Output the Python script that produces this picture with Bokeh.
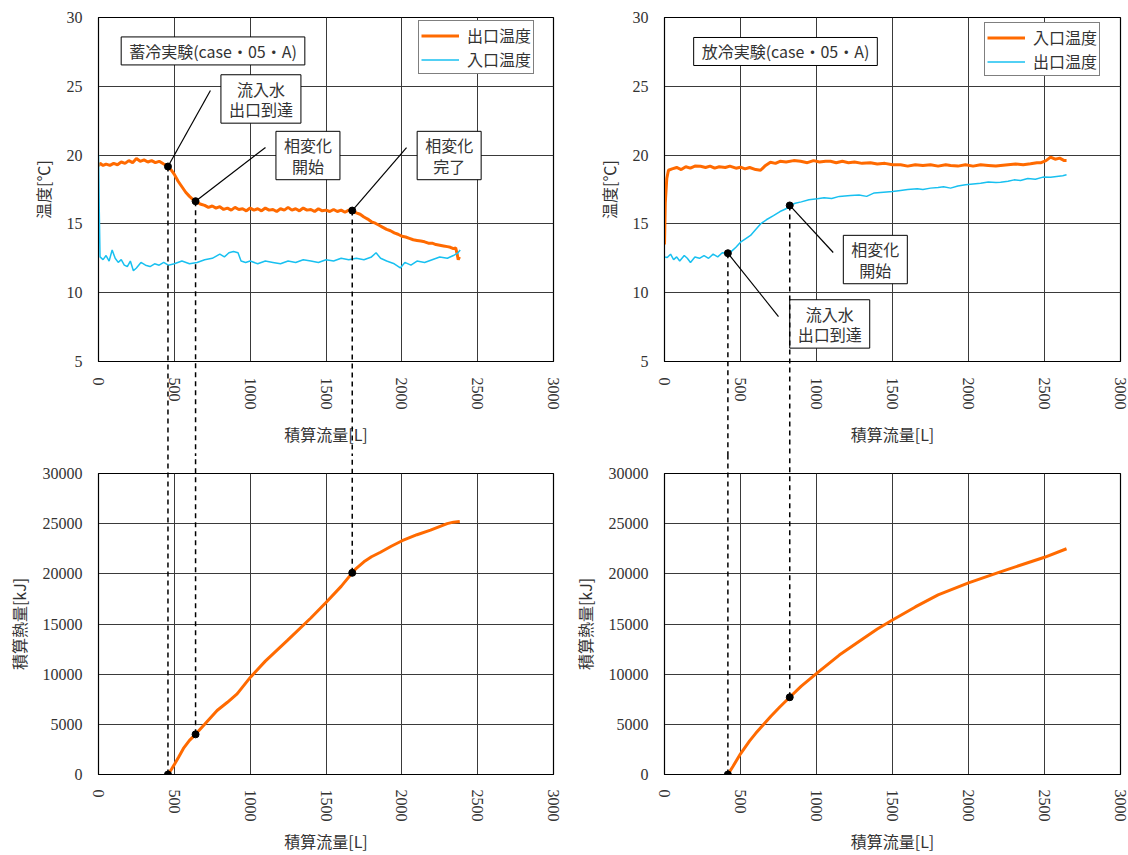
from bokeh.plotting import figure
from bokeh.layouts import gridplot
from bokeh.models import Range1d, Label
from bokeh.embed import file_html
from bokeh.resources import INLINE

x_ticks = [0, 500, 1000, 1500, 2000, 2500, 3000]
t_ticks = [5, 10, 15, 20, 25, 30]
q_ticks = [0, 5000, 10000, 15000, 20000, 25000, 30000]

# ---------------- 蓄冷実験 (charge) ----------------
c_out_x = [0, 10, 30, 50, 75, 100, 125, 150, 175, 200, 225, 250, 275, 300, 325, 350, 375, 400, 430, 458,
           480, 500, 525, 550, 575, 600, 620, 640, 670, 700, 725, 750, 775, 800, 825, 850, 875, 900, 925,
           950, 975, 1000, 1025, 1050, 1075, 1100, 1125, 1150, 1175, 1200, 1225, 1250, 1275, 1300, 1325,
           1350, 1375, 1400, 1425, 1450, 1475, 1500, 1525, 1550, 1575, 1600, 1625, 1650, 1673, 1700, 1725,
           1750, 1775, 1800, 1825, 1850, 1875, 1900, 1925, 1950, 1975, 2000, 2025, 2050, 2075, 2100, 2125,
           2150, 2175, 2200, 2225, 2250, 2275, 2300, 2320, 2340, 2355, 2365, 2372, 2380]
c_out_t = [19.2, 19.4, 19.25, 19.35, 19.25, 19.4, 19.3, 19.5, 19.4, 19.6, 19.45, 19.75, 19.55, 19.65, 19.5,
           19.6, 19.45, 19.55, 19.35, 19.17,
           18.9, 18.6, 18.1, 17.7, 17.3, 17.0, 16.8, 16.65, 16.45, 16.35, 16.2, 16.3, 16.15, 16.25, 16.05,
           16.15, 16.0, 16.2, 16.05, 16.1, 15.95, 16.15, 16.0, 16.1, 15.95, 16.15, 16.0, 16.05, 15.9, 16.1,
           16.0, 16.2, 16.0, 16.1, 15.95, 16.15, 16.0, 16.05, 15.9, 16.1, 15.95, 16.0, 15.9, 16.05, 15.9,
           16.0, 15.85, 16.0, 15.97, 15.8, 15.7, 15.5, 15.35, 15.15, 15.05, 14.9, 14.75, 14.6, 14.5, 14.35,
           14.25, 14.1, 14.05, 13.95, 13.85, 13.8, 13.75, 13.7, 13.6, 13.6, 13.5, 13.45, 13.4, 13.35, 13.3,
           13.2, 13.25, 12.8, 12.4, 12.6, 13.0]

c_in_x = [0, 5, 10, 30, 50, 70, 90, 110, 130, 150, 170, 190, 210, 230, 250, 280, 310, 340, 370, 400, 430,
          460, 500, 550, 600, 650, 700, 750, 800, 830, 860, 890, 920, 940, 970, 1000, 1050, 1100, 1150, 1200,
          1250, 1300, 1350, 1400, 1450, 1500, 1550, 1600, 1650, 1700, 1750, 1800, 1830, 1860, 1900, 1950,
          1990, 2020, 2060, 2100, 2150, 2200, 2250, 2300, 2340, 2370, 2385]
c_in_t = [20.0, 16.0, 12.6, 12.4, 12.7, 12.3, 13.1, 12.5, 12.2, 12.4, 12.0, 11.9, 12.3, 11.6, 11.8, 12.2,
          12.0, 11.9, 12.1, 12.0, 12.2, 12.0, 12.1, 12.3, 12.1, 12.2, 12.4, 12.5, 12.8, 12.6, 12.9, 13.0,
          12.9, 12.3, 12.2, 12.3, 12.1, 12.3, 12.2, 12.1, 12.3, 12.2, 12.4, 12.3, 12.2, 12.4, 12.3, 12.5,
          12.4, 12.5, 12.4, 12.6, 12.9, 12.5, 12.3, 12.1, 11.8, 12.2, 12.0, 12.3, 12.2, 12.4, 12.6, 12.5,
          12.7, 12.9, 13.1]

c_q_x = [458, 480, 500, 527, 560, 600, 640, 700, 782, 850, 914, 1002, 1100, 1244, 1400, 1500, 1600, 1673,
         1700, 1750, 1800, 1859, 1930, 2002, 2100, 2189, 2299, 2340, 2382]
c_q = [0, 500, 1000, 1700, 2600, 3400, 4000, 5000, 6380, 7200, 8040, 9700, 11300, 13350, 15600, 17150,
       18750, 20100, 20550, 21200, 21700, 22150, 22750, 23300, 23900, 24350, 25000, 25150, 25220]

c_mark_x = [458, 640, 1673]
c_mark_t = [19.17, 16.65, 15.97]
c_mark_q = [0, 4000, 20100]

# ---------------- 放冷実験 (discharge) ----------------
d_in_x = [0, 5, 15, 26, 50, 80, 110, 140, 170, 200, 237, 270, 300, 330, 360, 400, 430, 470, 500, 530, 560,
          600, 632, 660, 697, 730, 760, 800, 850, 895, 940, 980, 1020, 1060, 1092, 1130, 1170, 1210, 1250,
          1300, 1355, 1400, 1450, 1500, 1553, 1600, 1650, 1700, 1750, 1800, 1850, 1882, 1930, 1980, 2030,
          2080, 2130, 2180, 2211, 2260, 2310, 2360, 2408, 2450, 2474, 2510, 2540, 2570, 2600, 2630, 2645]
d_in_t = [13.5, 16.5, 18.3, 18.9, 19.0, 19.1, 18.95, 19.15, 19.05, 19.2, 19.19, 19.1, 19.2, 19.05, 19.15,
          19.1, 19.2, 19.05, 19.12, 19.0, 19.1, 18.95, 18.9, 19.2, 19.48, 19.4, 19.55, 19.5, 19.6, 19.55,
          19.45, 19.6, 19.5, 19.55, 19.55, 19.45, 19.55, 19.45, 19.5, 19.4, 19.44, 19.35, 19.4, 19.3, 19.3,
          19.2, 19.3, 19.25, 19.3, 19.2, 19.3, 19.24, 19.2, 19.3, 19.2, 19.3, 19.25, 19.2, 19.24, 19.3,
          19.35, 19.3, 19.37, 19.45, 19.44, 19.6, 19.85, 19.7, 19.78, 19.6, 19.6]

d_out_x = [0, 18, 40, 60, 80, 100, 130, 150, 171, 200, 230, 260, 290, 320, 350, 380, 417, 440, 470, 500,
           530, 566, 600, 632, 670, 717, 760, 800, 824, 860, 900, 950, 1005, 1050, 1100, 1150, 1224, 1280,
           1330, 1380, 1441, 1500, 1553, 1600, 1663, 1700, 1750, 1800, 1836, 1882, 1930, 1980, 2030, 2080,
           2130, 2180, 2211, 2260, 2300, 2342, 2390, 2440, 2490, 2540, 2580, 2620, 2645]
d_out_t = [12.6, 12.56, 12.8, 12.4, 12.6, 12.3, 12.7, 12.5, 12.2, 12.6, 12.5, 12.7, 12.5, 12.8, 12.6, 12.9,
           12.87, 13.0, 13.3, 13.67, 13.9, 14.16, 14.6, 15.0, 15.3, 15.6, 15.9, 16.1, 16.34, 16.5, 16.6,
           16.75, 16.82, 16.9, 16.85, 17.0, 17.06, 17.1, 17.0, 17.25, 17.3, 17.35, 17.43, 17.5, 17.55, 17.5,
           17.6, 17.65, 17.7, 17.6, 17.75, 17.85, 17.9, 17.95, 18.05, 18.0, 18.03, 18.1, 18.2, 18.15, 18.3,
           18.25, 18.4, 18.39, 18.45, 18.5, 18.57]

d_q_x = [417, 450, 500, 560, 600, 653, 700, 760, 824, 900, 1005, 1150, 1289, 1400, 1500, 1650, 1800, 2000,
         2200, 2400, 2500, 2645]
d_q = [0, 800, 2060, 3350, 4100, 5000, 5800, 6750, 7700, 8800, 10130, 11900, 13350, 14500, 15400, 16700,
       17900, 19100, 20150, 21150, 21650, 22500]

d_mark_x = [417, 824]
d_mark_t = [12.87, 16.34]
d_mark_q = [0, 7700]

ORANGE = "#FF6A00"
CYAN = "#18C0F0"
JP = "Noto Sans CJK JP"
NUM = "Liberation Serif"


def make_fig(yr, yticks, ylabel, left, right, top, fh, bottom, fw, lab_off, title_off):
    p = figure(frame_width=fw, frame_height=fh, x_range=Range1d(0, 3000), y_range=Range1d(*yr),
               output_backend="svg", toolbar_location=None,
               min_border_left=left, min_border_right=right, min_border_top=top, min_border_bottom=bottom)
    p.background_fill_color = "white"
    p.border_fill_color = "white"
    p.outline_line_color = "black"
    p.outline_line_width = 1.2
    p.grid.grid_line_color = "#3a3a3a"
    p.grid.grid_line_width = 1
    p.xaxis.ticker = x_ticks
    p.yaxis.ticker = yticks
    for ax in p.axis:
        ax.major_tick_in = 0
        ax.major_tick_out = 0
        ax.minor_tick_in = 0
        ax.minor_tick_out = 0
        ax.axis_line_color = "black"
        ax.major_label_text_font = NUM
        ax.major_label_text_font_size = "16px"
        ax.major_label_text_color = "#333333"
        ax.major_label_standoff = 16
        ax.axis_label_text_font = JP
        ax.axis_label_text_font_size = "16px"
        ax.axis_label_text_font_style = "normal"
        ax.axis_label_text_color = "#333333"
        ax.axis_label_standoff = 9
    p.xaxis.major_label_orientation = "vertical"
    p.xaxis.major_label_standoff = lab_off
    p.xaxis.axis_label_standoff = title_off
    p.xaxis.axis_label = "積算流量[L]"
    p.yaxis.axis_label = ylabel
    return p


def box(p, x, y, text):
    p.add_layout(Label(x=x, y=y, text=text, text_align="center", text_baseline="middle",
                       text_font=JP, text_font_size="16px", text_color="#333333", text_line_height=0.85,
                       background_fill_color="white", border_line_color="black", border_line_width=1,
                       padding=(8, 2)))


def leader(p, x0, y0, x1, y1):
    p.segment(x0=[x0], y0=[y0], x1=[x1], y1=[y1], line_color="black", line_width=1.2)


def drop_lines(p, xs, ys, far):
    # drawn at overlay level so that the dashes continue through the gap between the panels
    p.segment(x0=xs, y0=ys, x1=xs, y1=[far] * len(xs), line_color="black", line_width=1.5,
              line_dash="5 4", level="overlay")


def style_legend(p, loc):
    lg = p.legend[0]
    lg.location = loc
    lg.margin = 0
    lg.padding = 2
    lg.spacing = 0
    lg.label_height = 21
    lg.glyph_height = 21
    lg.glyph_width = 38
    lg.label_standoff = 8
    lg.label_text_font = JP
    lg.label_text_font_size = "16px"
    lg.label_text_color = "#333333"
    lg.border_line_color = "black"
    lg.border_line_width = 1
    lg.background_fill_color = "white"
    lg.background_fill_alpha = 1


LA, LB = 98, 101

# top-left
p1 = make_fig((5, 30), t_ticks, "温度[℃]", LA, 10, 17, 344, 95, 455, 16, 9)
p1.line(c_out_x, c_out_t, line_color=ORANGE, line_width=3, legend_label="出口温度")
p1.line(c_in_x, c_in_t, line_color=CYAN, line_width=1.5, legend_label="入口温度")
drop_lines(p1, c_mark_x, c_mark_t, -60)
leader(p1, 738, 24.69, 458, 19.17)
leader(p1, 1101, 20.55, 640, 16.65)
leader(p1, 2031, 20.55, 1673, 15.97)
p1.scatter(c_mark_x, c_mark_t, size=7, color="black")
box(p1, 755, 27.57, "蓄冷実験(case・05・A)")
box(p1, 1071, 24.08, "流入水\n出口到達")
box(p1, 1381, 19.97, "相変化\n開始")
box(p1, 2312, 19.97, "相変化\n完了")
style_legend(p1, (320, 287))

# bottom-left
p3 = make_fig((0, 30000), q_ticks, "積算熱量[kJ]", LA, 10, 17, 301, 76, 455, 15, 4)
p3.line(c_q_x, c_q, line_color=ORANGE, line_width=3)
drop_lines(p3, c_mark_x, c_mark_q, 300000)
p3.scatter(c_mark_x, c_mark_q, size=7, color="black")

# top-right
p2 = make_fig((5, 30), t_ticks, "温度[℃]", LB, 8, 17, 344, 95, 456, 16, 9)
p2.line(d_in_x, d_in_t, line_color=ORANGE, line_width=3, legend_label="入口温度")
p2.line(d_out_x, d_out_t, line_color=CYAN, line_width=1.5, legend_label="出口温度")
drop_lines(p2, d_mark_x, d_mark_t, -60)
leader(p2, 824, 16.34, 1110, 12.92)
leader(p2, 417, 12.87, 750, 8.27)
p2.scatter(d_mark_x, d_mark_t, size=7, color="black")
box(p2, 796, 27.53, "放冷実験(case・05・A)")
box(p2, 1387, 12.41, "相変化\n開始")
box(p2, 1087, 7.73, "流入水\n出口到達")
style_legend(p2, (320, 285))

# bottom-right
p4 = make_fig((0, 30000), q_ticks, "積算熱量[kJ]", LB, 8, 17, 301, 76, 456, 15, 4)
p4.line(d_q_x, d_q, line_color=ORANGE, line_width=3)
drop_lines(p4, d_mark_x, d_mark_q, 300000)
p4.scatter(d_mark_x, d_mark_q, size=7, color="black")

grid = gridplot([[p1, p2], [p3, p4]], toolbar_location=None)
open("out.html", "w").write(file_html(grid, INLINE))
